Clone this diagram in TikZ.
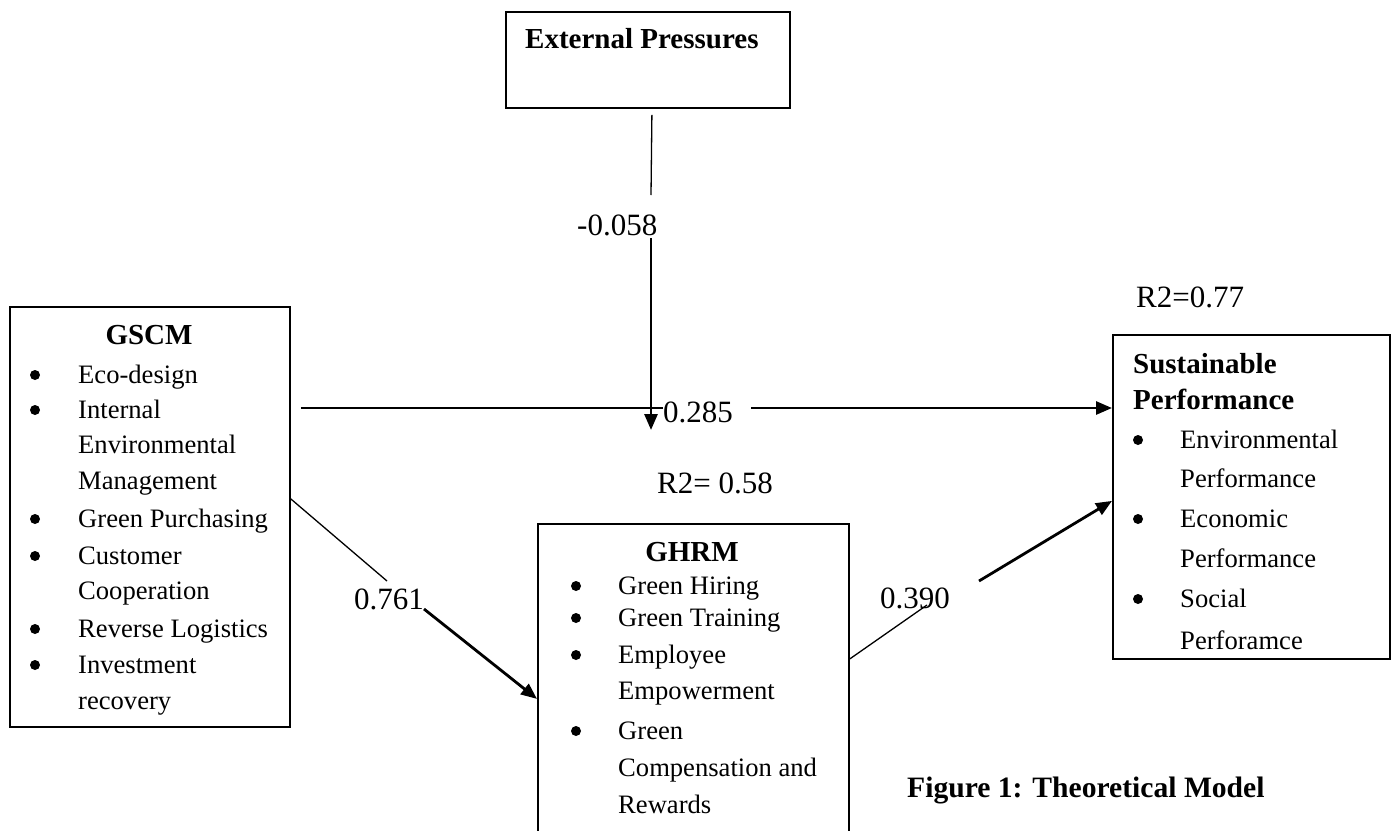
\documentclass[tikz,border=0pt]{standalone}
\usepackage{fontspec}
\setmainfont{Liberation Serif}
\usetikzlibrary{arrows.meta,calc}
\begin{document}
\begin{tikzpicture}[x=1pt,y=-1pt,
  box/.style={draw, line width=1.8pt, rectangle, inner sep=0pt, anchor=north west},
  txt/.style={anchor=base west, inner sep=0pt, font=\fontsize{26.6}{32}\selectfont},
  ttl/.style={anchor=base west, inner sep=0pt, font=\fontsize{29}{34}\selectfont\bfseries},
  num/.style={anchor=base west, inner sep=0pt, font=\fontsize{31}{36}\selectfont},
  captxt/.style={anchor=base west, inner sep=0pt, font=\fontsize{29.6}{34}\selectfont\bfseries},
  bul/.style={circle, fill=black, draw=none, inner sep=0pt, minimum size=10pt},
  thinline/.style={line width=1.3pt},
  thickarrow/.style={line width=2.8pt, -{Triangle[length=16pt,width=13pt]}},
]
\useasboundingbox (0,0) rectangle (1391,830);
\clip (0,0) rectangle (1391,830);
\fill[white] (0,0) rectangle (1391,830);

% boxes
\node[box, minimum width=284pt, minimum height=96pt] (ext) at (505,11) {};
\node[box, minimum width=280pt, minimum height=420pt] (gscm) at (9,306) {};
\node[box, minimum width=311pt, minimum height=320pt] (ghrm) at (537,523) {};
\node[box, minimum width=277pt, minimum height=324pt] (sp) at (1112,334) {};

% External Pressures
\node[ttl] (extT) at (525,48) {External Pressures};

% GSCM
\node[ttl, anchor=base] (gscmT) at (149,344) {GSCM};
\foreach \t/\y [count=\i] in {Eco-design/383, Internal/418, Environmental/453, Management/489, Green Purchasing/527, Customer/564, Cooperation/599, Reverse Logistics/637, Investment/673, recovery/709}
  \node[txt] (gs\i) at (78,\y) {\t};
\foreach \y [count=\i] in {383,418,527,564,637,673}
  \node[bul] (gsb\i) at (35,\y-8) {};

% GHRM
\node[ttl, anchor=base] (ghrmT) at (692,561) {GHRM};
\foreach \t/\y [count=\i] in {Green Hiring/594, Green Training/626, Employee/663, Empowerment/699, Green/739, Compensation and/776, Rewards/813}
  \node[txt] (gh\i) at (618,\y) {\t};
\foreach \y [count=\i] in {594,626,663,739}
  \node[bul] (ghb\i) at (576,\y-8) {};

% Sustainable Performance
\node[ttl] (spT1) at (1133,373) {Sustainable};
\node[ttl] (spT2) at (1133,409) {Performance};
\foreach \t/\y [count=\i] in {Environmental/448, Performance/487, Economic/527, Performance/567, Social/607, Perforamce/649}
  \node[txt] (sp\i) at (1180,\y) {\t};
\foreach \y [count=\i] in {448,527,607}
  \node[bul] (spb\i) at (1138,\y-8) {};

% R2 labels
\node[num] (r2a) at (657,493) {R2= 0.58};
\node[num] (r2b) at (1136,307) {R2=0.77};

% coordinates for broken connectors
\coordinate (m1) at (651,195);
\coordinate (m2) at (651,238);
\coordinate (m3) at (651,430);
\coordinate (h1) at (663,408);
\coordinate (h2) at (751,408);
\coordinate (c1) at (387,581);
\coordinate (c2) at (424,609);
\coordinate (c3) at (927,605);
\coordinate (c4) at (979,581);

% External Pressures -> moderation
\draw[thinline] ($(ext.south)+(4,6)$) -- (m1);
\node[num] (l1) at (577,235) {-0.058};
\draw[thickarrow] (m2) -- (m3);

% GSCM -> Sustainable Performance
\draw[thinline] (gscm.east |- h1) ++(10,0) -- (h1);
\node[num] (l2) at (663,422) {0.285};
\draw[thickarrow] (h2) -- (sp.west |- h2);

% GSCM -> GHRM
\draw[thinline] ($(gscm.east)+(0,-18)$) -- (c1);
\node[num] (l3) at (354,609) {0.761};
\draw[thickarrow] (c2) -- ($(ghrm.west)+(0,15)$);

% GHRM -> Sustainable Performance
\draw[thinline] ($(ghrm.east)+(0,-25)$) -- (c3);
\node[num] (l4) at (880,608) {0.390};
\draw[thickarrow] (c4) -- ($(sp.west)+(0,4)$);

% caption
\node[captxt] (caption) at (907,797) {Figure 1: Theoretical Model};
\end{tikzpicture}
\end{document}
